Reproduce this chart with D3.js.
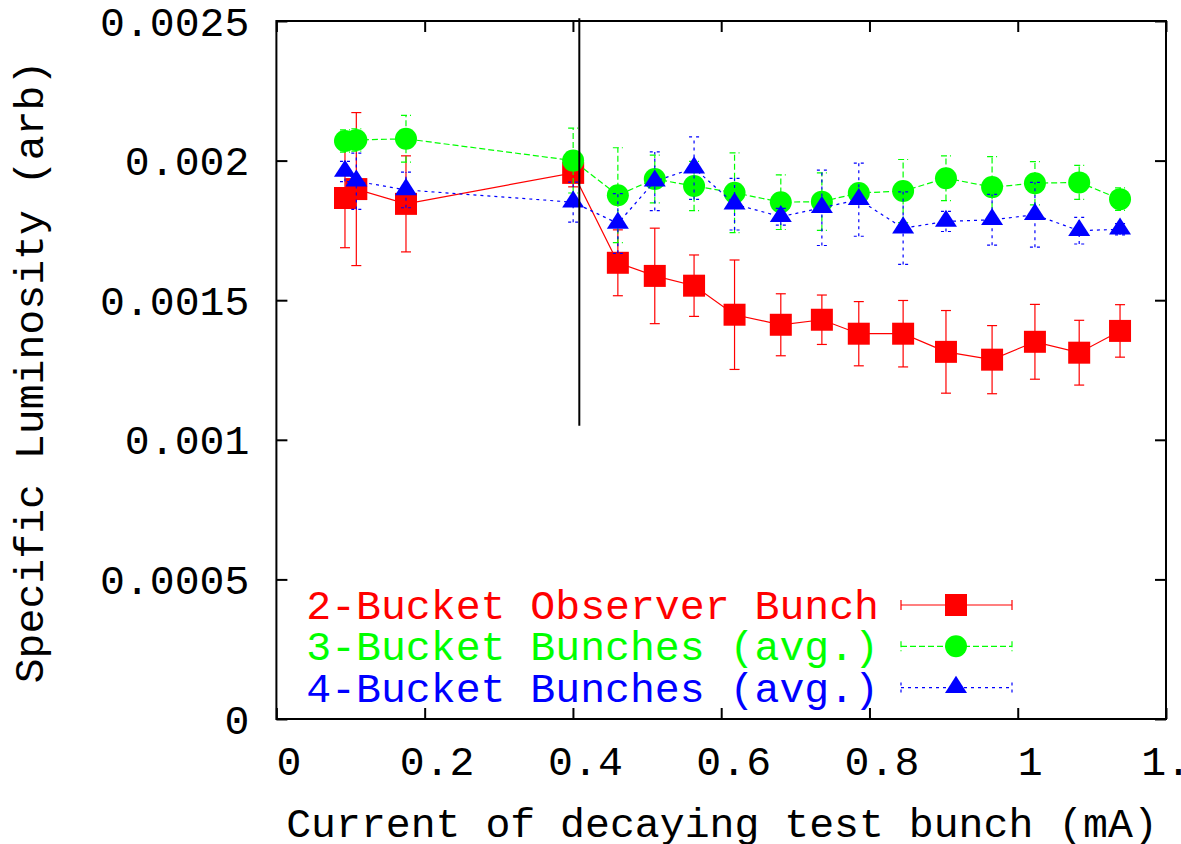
<!DOCTYPE html>
<html>
<head>
<meta charset="utf-8">
<script src="https://cdn.jsdelivr.net/npm/d3@7"></script>
<style>
  html, body { margin: 0; padding: 0; background: #fff; }
  svg { display: block; font-family: "Liberation Mono", "Courier New", monospace; }
</style>
</head>
<body>
<svg id="chart" width="1181" height="844"></svg>
<script>
// ---- data ----
const current = [0.0925, 0.1078, 0.1748, 0.4003, 0.4606, 0.5104, 0.5634, 0.6180, 0.6804,
                 0.7358, 0.7856, 0.8454, 0.9032, 0.9654, 1.0232, 1.0829, 1.1380];

const observer2 = [0.001866, 0.001898, 0.001845, 0.001956, 0.001634, 0.001587, 0.001552, 0.001448, 0.001412,
                   0.001430, 0.001380, 0.001380, 0.001315, 0.001287, 0.001351, 0.001312, 0.001390];
const observer2Err = [0.000178, 0.000274, 0.000172, 0.00005, 0.000118, 0.000171, 0.000110, 0.000196, 0.000111,
                      0.0000885, 0.000115, 0.000119, 0.000148, 0.000122, 0.000134, 0.000116, 0.000094];

const bunches3 = [0.002070, 0.002074, 0.002078, 0.002000, 0.001876, 0.001934, 0.001909, 0.001885, 0.001851,
                  0.001853, 0.001884, 0.001891, 0.001937, 0.001905, 0.001919, 0.001922, 0.001862];
const bunches3Err = [0.00004, 0.00004, 0.0000838, 0.000116, 0.00017, 0.0000855, 0.0000885, 0.000143, 0.0000978,
                     0.000103, 0.00003, 0.000113, 0.00008, 0.000109, 0.0000776, 0.0000609, 0.00004];

const bunches4 = [0.001961, 0.001926, 0.001895, 0.001851, 0.001775, 0.001926, 0.001973, 0.001844, 0.001799,
                  0.001831, 0.001860, 0.001758, 0.001782, 0.001788, 0.001806, 0.001749, 0.001754];
const bunches4Err = [0.000036, 0.000101, 0.0000638, 0.0000716, 0.000107, 0.000105, 0.000112, 0.0000925, 0.00003,
                     0.000135, 0.000131, 0.00013, 0.000036, 0.000091, 0.000116, 0.0000477, 0.00002];

const seriesNames = ["2-Bucket Observer Bunch", "3-Bucket Bunches (avg.)", "4-Bucket Bunches (avg.)"];
const xTicks = [0, 0.2, 0.4, 0.6, 0.8, 1, 1.2];
const yTicks = [0, 0.0005, 0.001, 0.0015, 0.002, 0.0025];
const markerX = 0.4086;            // vertical reference line
const markerY = [0.00105, 0.00251];
const xTitle = "Current of decaying test bunch (mA)";
const yTitle = "Specific Luminosity (arb)";

// ---- layout ----
const svg = d3.select("#chart");
const L = 276.4, R = 1166, T = 21, B = 719;
const x = d3.scaleLinear().domain([0, 1.2]).range([L, R]);
const y = d3.scaleLinear().domain([0, 0.0025]).range([B, T]);
const FS = 41.5;

svg.append("rect").attr("width", 1181).attr("height", 844).attr("fill", "#fff");

// axes (inward ticks on all four sides)
const fmtY = d => d === 0 ? "0" : String(+d.toFixed(4));
const fmtX = d => String(+d.toFixed(1));

const gB = svg.append("g").attr("transform", `translate(0,${B})`)
  .call(d3.axisBottom(x).tickValues(xTicks).tickSize(-11).tickFormat(fmtX));
gB.selectAll("text").attr("y", 56).attr("dy", 0).attr("dx", 12);
const gT = svg.append("g").attr("transform", `translate(0,${T})`)
  .call(d3.axisTop(x).tickValues(xTicks).tickSize(-11).tickFormat(""));
const gL = svg.append("g").attr("transform", `translate(${L},0)`)
  .call(d3.axisLeft(y).tickValues(yTicks).tickSize(-11).tickFormat(fmtY));
gL.selectAll("text").attr("x", -27).attr("dy", 0).attr("y", 14);
const gR = svg.append("g").attr("transform", `translate(${R},0)`)
  .call(d3.axisRight(y).tickValues(yTicks).tickSize(-11).tickFormat(""));

[gB, gT, gL, gR].forEach(g => {
  g.select(".domain").remove();
  g.selectAll(".tick line").attr("stroke", "#000").attr("stroke-width", 2);
  g.selectAll("text").attr("font-size", FS).attr("fill", "#000")
    .attr("font-family", "Liberation Mono, monospace");
});

// frame
svg.append("rect").attr("x", L).attr("y", T).attr("width", R - L).attr("height", B - T)
  .attr("fill", "none").attr("stroke", "#000").attr("stroke-width", 2);

// titles
svg.append("text").attr("x", 722).attr("y", 837).attr("text-anchor", "middle")
  .attr("font-size", FS).attr("fill", "#000").text(xTitle);
svg.append("text").attr("transform", `translate(43,372) rotate(-90)`).attr("text-anchor", "middle")
  .attr("font-size", FS).attr("fill", "#000").text(yTitle);

// series
const triPath = "M0,-11.8L11,5.3L-11,5.3Z";
const symbolPath = {
  square: "M-11,-11H11V11H-11Z",
  circle: d3.symbol(d3.symbolCircle, Math.PI * 11 * 11)(),
  triangle: triPath
};
const series = [
  { name: seriesNames[0], vals: observer2, err: observer2Err, color: "#ff0000", dash: null, sym: "square" },
  { name: seriesNames[1], vals: bunches3, err: bunches3Err, color: "#00ff00", dash: "6,3", sym: "circle" },
  { name: seriesNames[2], vals: bunches4, err: bunches4Err, color: "#0000ff", dash: "3,4", sym: "triangle" }
];

const plot = svg.append("g");
series.forEach(s => {
  const pts = current.map((c, i) => ({ x: c, y: s.vals[i], e: s.err[i] }));
  const g = plot.append("g");
  const eb = g.selectAll("g.eb").data(pts).join("g").attr("class", "eb")
    .attr("stroke", s.color).attr("stroke-width", 1.2).attr("stroke-dasharray", s.dash);
  eb.append("line").attr("x1", d => x(d.x)).attr("x2", d => x(d.x))
    .attr("y1", d => y(d.y - d.e)).attr("y2", d => y(d.y + d.e));
  eb.append("line").attr("x1", d => x(d.x) - 5).attr("x2", d => x(d.x) + 5)
    .attr("y1", d => y(d.y + d.e)).attr("y2", d => y(d.y + d.e));
  eb.append("line").attr("x1", d => x(d.x) - 5).attr("x2", d => x(d.x) + 5)
    .attr("y1", d => y(d.y - d.e)).attr("y2", d => y(d.y - d.e));
  g.append("path").datum(pts)
    .attr("d", d3.line().x(d => x(d.x)).y(d => y(d.y)))
    .attr("fill", "none").attr("stroke", s.color).attr("stroke-width", 1.2)
    .attr("stroke-dasharray", s.dash);
  g.selectAll("path.pt").data(pts).join("path").attr("class", "pt")
    .attr("transform", d => `translate(${x(d.x)},${y(d.y)})`)
    .attr("d", symbolPath[s.sym]).attr("fill", s.color);
});

// vertical reference line
svg.append("line").attr("x1", x(markerX)).attr("x2", x(markerX))
  .attr("y1", y(markerY[0])).attr("y2", y(markerY[1]))
  .attr("stroke", "#000").attr("stroke-width", 2);

// legend
const leg = svg.append("g");
series.forEach((s, i) => {
  const ly = 605 + i * 41.3;
  const g = leg.append("g");
  g.append("text").attr("x", 879).attr("y", ly + 14).attr("text-anchor", "end")
    .attr("font-size", FS).attr("fill", s.color).text(s.name);
  const ls = g.append("g").attr("stroke", s.color).attr("stroke-width", 1.2)
    .attr("stroke-dasharray", s.dash);
  ls.append("line").attr("x1", 901).attr("x2", 1012).attr("y1", ly).attr("y2", ly);
  ls.append("line").attr("x1", 901).attr("x2", 901).attr("y1", ly - 5).attr("y2", ly + 5).attr("stroke-dasharray", null);
  ls.append("line").attr("x1", 1012).attr("x2", 1012).attr("y1", ly - 5).attr("y2", ly + 5).attr("stroke-dasharray", null);
  g.append("path").attr("transform", `translate(956,${ly})`).attr("d", symbolPath[s.sym]).attr("fill", s.color);
});
</script>
</body>
</html>
